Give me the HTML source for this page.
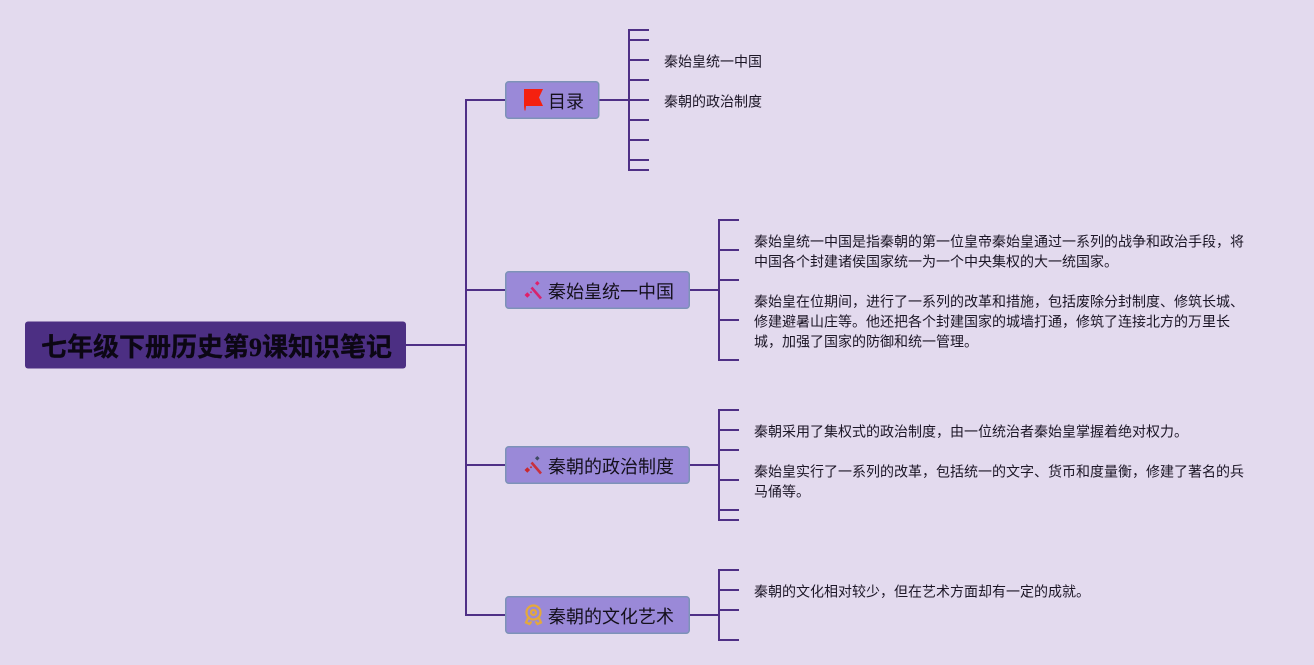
<!DOCTYPE html>
<html lang="zh">
<head>
<meta charset="utf-8">
<title>七年级下册历史第9课知识笔记</title>
<style>
html,body{margin:0;padding:0;background:#e3daee;}
svg{display:block;}
.t{font-family:"Liberation Sans","Noto Sans CJK SC",sans-serif;font-size:14px;fill:#1c1626;}
.n{font-family:"Liberation Sans","Noto Sans CJK SC",sans-serif;font-size:18px;fill:#14101c;}
.r{font-family:"Liberation Serif","Noto Sans CJK SC",serif;font-size:26px;font-weight:700;fill:#0c0714;stroke:#0c0714;stroke-width:.3;}
.l{stroke:#4f2f86;stroke-width:2;fill:none;}
.b{fill:#9a89d8;stroke:#7d92b8;stroke-width:1.5;}
</style>
</head>
<body>
<svg width="1314" height="665" viewBox="0 0 1314 665" xmlns="http://www.w3.org/2000/svg">
<rect width="1314" height="665" fill="#e3daee"/>

<!-- main connectors -->
<path class="l" d="M406 345H466M505 100H466V615H505M466 290H505M466 465H505"/>

<!-- group 1 -->
<path class="l" d="M599 100H629M649 30H629V170H649M629 40H649M629 60H649M629 80H649M629 100H649M629 120H649M629 140H649M629 160H649"/>
<!-- group 2 -->
<path class="l" d="M689 290H719M739 220H719V360H739M719 250H739M719 280H739M719 320H739"/>
<!-- group 3 -->
<path class="l" d="M689 465H719M739 410H719V520H739M719 430H739M719 450H739M719 480H739M719 510H739"/>
<!-- group 4 -->
<path class="l" d="M689 615H719M739 570H719V640H739M719 590H739M719 610H739"/>

<!-- root -->
<rect x="25" y="321.500" width="381" height="47" rx="3" fill="#4c2f83"/>
<text class="r" x="41" y="356">七年级下册历史第9课知识笔记</text>

<!-- nodes -->
<rect class="b" x="505.750" y="81.750" width="93" height="36.500" rx="3"/>
<text class="n" x="548" y="108">目录</text>
<rect class="b" x="505.750" y="271.750" width="183.500" height="36.500" rx="3"/>
<text class="n" x="548" y="298">秦始皇统一中国</text>
<rect class="b" x="505.750" y="446.750" width="183.500" height="36.500" rx="3"/>
<text class="n" x="548" y="473">秦朝的政治制度</text>
<rect class="b" x="505.750" y="596.750" width="183.500" height="36.500" rx="3"/>
<text class="n" x="548" y="623">秦朝的文化艺术</text>

<!-- flag icon -->
<path d="M524 89H543L539 97.500L543 106H526L525.500 110.500H524.500L524 106Z" fill="#f5200f"/>

<!-- wand icons -->
<g>
<path d="M531.500 287.500L541 298.500" stroke="#d6246e" stroke-width="2.600" fill="none"/>
<path d="M527.300 292.200l2.800 2.800-2.800 2.800-2.800-2.800z M537.300 281l2.300 2.300-2.300 2.300-2.300-2.300z M531 291l1.200 1.200-1.200 1.200-1.200-1.200z" fill="#e0206a"/>
</g>
<g>
<path d="M531.500 462.500L541 473.500" stroke="#c9303c" stroke-width="2.600" fill="none"/>
<path d="M527.300 467.200l2.800 2.800-2.800 2.800-2.800-2.800z M531 466l1.200 1.200-1.200 1.200-1.200-1.200z" fill="#c9282f"/>
<path d="M537.300 456l2.300 2.300-2.300 2.300-2.300-2.300z" fill="#3f4a63"/>
</g>

<!-- medal icon -->
<g fill="none" stroke="#e4a93c" stroke-width="2.200">
<circle cx="533.500" cy="612.500" r="7"/>
<circle cx="533.500" cy="612.500" r="2.500"/>
<path d="M528 618L526 622.500L529.500 624L531.500 621.500M539 618L541 622.500L537.500 624L535.500 621.500"/>
</g>

<!-- text -->
<text class="t" x="664" y="66.500">秦始皇统一中国</text>
<text class="t" x="664" y="106.500">秦朝的政治制度</text>

<text class="t" x="754" y="246.500">秦始皇统一中国是指秦朝的第一位皇帝秦始皇通过一系列的战争和政治手段，将</text>
<text class="t" x="754" y="266.500">中国各个封建诸侯国家统一为一个中央集权的大一统国家。</text>
<text class="t" x="754" y="306.500">秦始皇在位期间，进行了一系列的改革和措施，包括废除分封制度、修筑长城、</text>
<text class="t" x="754" y="326.500">修建避暑山庄等。他还把各个封建国家的城墙打通，修筑了连接北方的万里长</text>
<text class="t" x="754" y="346.500">城，加强了国家的防御和统一管理。</text>

<text class="t" x="754" y="436.500">秦朝采用了集权式的政治制度，由一位统治者秦始皇掌握着绝对权力。</text>
<text class="t" x="754" y="476.500">秦始皇实行了一系列的改革，包括统一的文字、货币和度量衡，修建了著名的兵</text>
<text class="t" x="754" y="496.500">马俑等。</text>

<text class="t" x="754" y="596.500">秦朝的文化相对较少，但在艺术方面却有一定的成就。</text>
</svg>
</body>
</html>
